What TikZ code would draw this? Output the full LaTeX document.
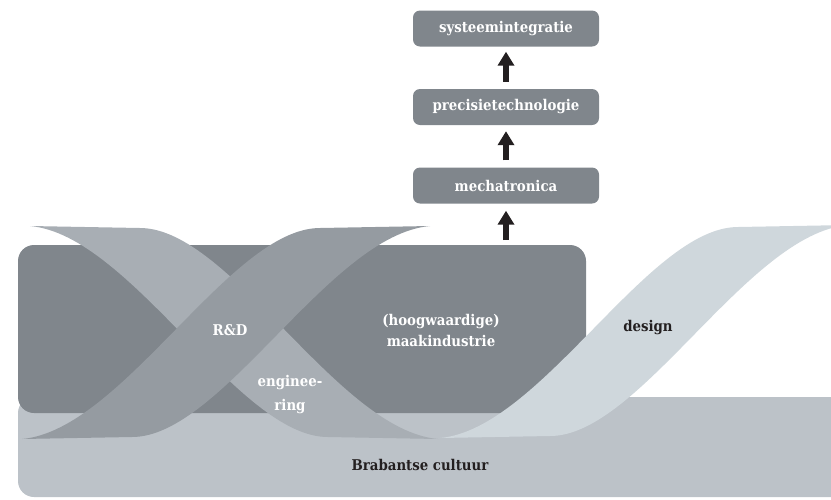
\documentclass[tikz,border=0pt]{standalone}
\usepackage{fontspec}
\setmainfont{DejaVu Serif Condensed}
\usetikzlibrary{arrows.meta}
\definecolor{boxgray}{HTML}{80868C}
\definecolor{rdgray}{HTML}{959BA1}
\definecolor{enggray}{HTML}{A8AEB4}
\definecolor{bandgray}{HTML}{BCC2C8}
\definecolor{desgray}{HTML}{CFD7DC}
\definecolor{inkblack}{HTML}{231F20}
\begin{document}
\begin{tikzpicture}[x=1pt,y=-1pt,
  lbl/.style={font=\bfseries\fontsize{14.8}{21}\selectfont, inner sep=0pt},
  wlabel/.style={lbl, text=white},
  dlabel/.style={lbl, text=inkblack},
  topbox/.style={wlabel, fill=boxgray, rounded corners=7pt, minimum width=186pt, minimum height=36pt},
  plate/.style={rounded corners=16pt, inner sep=0pt, outer sep=0pt, anchor=north west},
  arr/.style={draw=inkblack, line width=5.5pt, -{Triangle[length=14pt,width=16pt]}}]
\useasboundingbox (0,0) rectangle (831,499);
\clip (0,0) rectangle (831,499);
% base band
\node[plate, fill=bandgray, minimum width=842pt, minimum height=100pt] (cult) at (18,397) {};
% main box
\node[plate, fill=boxgray, minimum width=568pt, minimum height=168pt] (maak) at (18,245) {};
% engineering ribbon
\fill[enggray] (438,439) .. controls (337,430) and (230,228) .. (140,228) -- (30,226)
  .. controls (131,235) and (238,437) .. (328,437) -- cycle;
% R&D ribbon
\fill[rdgray] (22,439) .. controls (123,430) and (230,228) .. (320,228) -- (430,226)
  .. controls (329,235) and (222,437) .. (132,437) -- cycle;
% design ribbon
\fill[desgray] (440,438) .. controls (541,429) and (648,227) .. (738,227) -- (848,225)
  .. controls (747,234) and (640,436) .. (550,436) -- cycle;
% top boxes
\node[topbox] (sys) at (506,28.5) {systeemintegratie};
\node[topbox] (pre) at (506,107) {precisietechnologie};
\node[topbox] (mech) at (506,185.5) {mechatronica};
% arrows
\draw[arr, shorten <=7pt, shorten >=5pt] (pre.north) -- (sys.south);
\draw[arr, shorten <=7pt, shorten >=6pt] (mech.north) -- (pre.south);
\draw[arr, shorten <=5pt, shorten >=7pt] (mech.south |- maak.north) -- (mech.south);
% labels
\node[wlabel] (rd) at (230,330) {R\&D};
\node[wlabel, align=center] (mk) at (441,330) {(hoogwaardige)\\maakindustrie};
\node[wlabel, align=center, font=\bfseries\fontsize{14.8}{24}\selectfont] (eng) at (290,395) {enginee-\\ring};
\node[dlabel] (des) at (648,328) {design};
\node[dlabel] (bc) at (420,465) {Brabantse cultuur};
\end{tikzpicture}
\end{document}
